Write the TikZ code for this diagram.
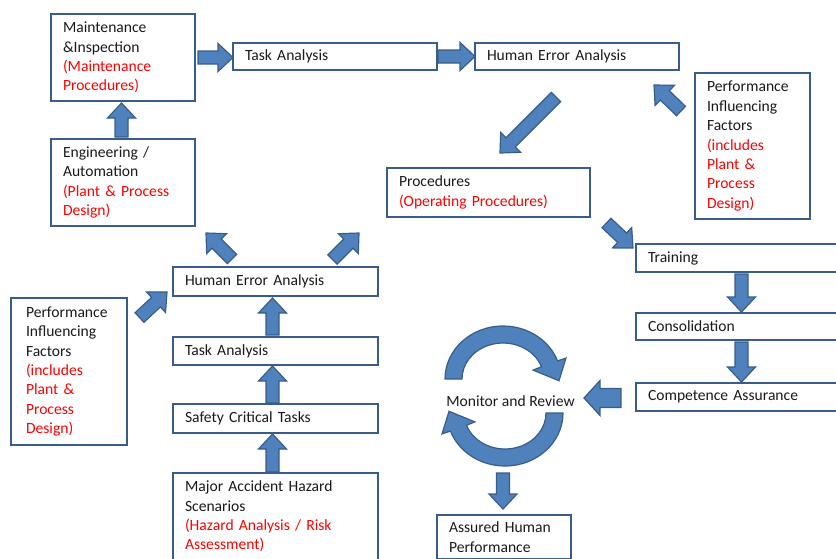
\documentclass[tikz,border=0pt]{standalone}
\usepackage{fontspec}
\setmainfont{Carlito}
\usetikzlibrary{calc}
\definecolor{boxline}{HTML}{385D8A}
\definecolor{arrowfill}{HTML}{4F81BD}
\definecolor{arrowline}{HTML}{385D8A}
\definecolor{errred}{HTML}{FF0000}
\definecolor{txt}{HTML}{1A1A1A}

\newcommand{\shaftw}{6.5pt}
\newcommand{\headw}{14pt}
\newcommand{\headl}{15pt}
\newcommand{\blockarrow}[2]{%
   \coordinate (ba-s) at #1;
   \coordinate (ba-t) at #2;
   \coordinate (ba-h) at ($(ba-t)!\headl!(ba-s)$);
   \draw[arrowbody] ($(ba-s)!\shaftw!90:(ba-t)$) -- ($(ba-h)!\shaftw!-90:(ba-s)$)
      -- ($(ba-h)!\headw!-90:(ba-s)$) -- (ba-t) -- ($(ba-h)!\headw!90:(ba-s)$)
      -- ($(ba-h)!\shaftw!90:(ba-s)$) -- ($(ba-s)!\shaftw!-90:(ba-t)$) -- cycle;}

\begin{document}
\begin{tikzpicture}[x=1pt,y=-1pt,font=\fontsize{15.6pt}{19.4pt}\selectfont,
   box/.style={draw=boxline, line width=2.5pt, fill=white, anchor=north west, outer sep=0pt,
      align=left, inner xsep=12pt, inner ysep=2pt, text=txt},
   arrowbody/.style={draw=arrowline, fill=arrowfill, line width=1.2pt, line join=miter}]
   \path[use as bounding box, clip] (0,0) rectangle (836,558);

   \node[box, minimum width=144pt, minimum height=87pt, text width=120pt] (maint) at (51,14)
      {Maintenance\\\&Inspection\\\color{errred}(Maintenance\\Procedures)};
   \node[box, minimum width=204pt, minimum height=27pt, text width=180pt] (taskA) at (233,43) {Task Analysis};
   \node[box, minimum width=204pt, minimum height=27pt, text width=180pt] (heaA) at (475,43) {Human Error Analysis};
   \node[box, minimum width=144pt, minimum height=87pt, text width=120pt] (eng) at (51,139)
      {Engineering /\\Automation\\\color{errred}(Plant \& Process\\Design)};
   \node[box, minimum width=203pt, minimum height=49pt, text width=179pt] (proc) at (387,168)
      {Procedures\\\color{errred}(Operating Procedures)};
   \node[box, minimum width=115pt, minimum height=146pt, text width=91pt] (pifR) at (695,73)
      {Performance\\Influencing\\Factors\\\color{errred}(includes\\Plant \&\\Process\\Design)};
   \node[box, minimum width=220pt, minimum height=28pt, text width=196pt] (train) at (636,244) {Training};
   \node[box, minimum width=220pt, minimum height=27pt, text width=196pt] (cons) at (636,313) {Consolidation};
   \node[box, minimum width=220pt, minimum height=28pt, text width=196pt] (comp) at (636,383) {Competence Assurance};
   \node[text=txt, inner sep=0pt] (monitor) at (510.5,401) {Monitor and Review};
   \node[box, minimum width=134pt, minimum height=44pt, text width=110pt] (assured) at (437,515)
      {Assured Human\\Performance};

   \node[box, minimum width=205pt, minimum height=29pt, text width=181pt] (heaB) at (173,267) {Human Error Analysis};
   \node[box, minimum width=205pt, minimum height=28pt, text width=181pt] (taskB) at (173,337) {Task Analysis};
   \node[box, minimum width=205pt, minimum height=29pt, text width=181pt] (sct) at (173,404) {Safety Critical Tasks};
   \node[box, minimum width=205pt, minimum height=87pt, text width=181pt] (mahs) at (173,473)
      {Major Accident Hazard\\Scenarios\\\color{errred}(Hazard Analysis / Risk\\Assessment)};
   \node[box, minimum width=116pt, minimum height=147pt, text width=86pt, inner xsep=15pt] (pifL) at (11,298)
      {Performance\\Influencing\\Factors\\\color{errred}(includes\\Plant \&\\Process\\Design)};

   \blockarrow{($(maint.east)+(3,0)$)}{($(taskA.west)+(0,1)$)}
   \blockarrow{($(taskA.east)+(1,0)$)}{(heaA.west)}
   \blockarrow{($(heaA.south)+(-21,27)$)}{($(proc.north)+(11.5,-15)$)}
   \blockarrow{($(pifR.north west)+(-14,38)$)}{($(heaA.south east)+(-25,15)$)}
   \blockarrow{($(proc.south east)+(16.5,6)$)}{($(train.north west)+(-3,4)$)}
   \blockarrow{($(eng.north)+(-1.5,-2)$)}{($(maint.south)+(-1.5,2)$)}
   \blockarrow{($(heaB.north west)+(59,-8)$)}{($(eng.south east)+(11,7)$)}
   \blockarrow{($(heaB.north east)+(-45.5,-7.5)$)}{($(heaB.north east)+(-19,-34)$)}
   \blockarrow{($(pifL.north east)+(12.5,19.5)$)}{($(heaB.west)+(-6,10.5)$)}
   \blockarrow{($(taskB.north)+(-3,-2)$)}{($(heaB.south)+(-3,2)$)}
   \blockarrow{($(sct.north)+(-3,-1)$)}{($(taskB.south)+(-3,1)$)}
   \blockarrow{($(mahs.north)+(-3,-1)$)}{($(sct.south)+(-3,1)$)}
   \blockarrow{($(train.south west)+(105.5,2)$)}{($(cons.north west)+(105.5,-1)$)}
   \blockarrow{($(cons.south west)+(105.5,2)$)}{($(comp.north west)+(105.5,-1)$)}
   \blockarrow{($(monitor.center)+(-7.5,72)$)}{($(assured.north)+(-1,-6)$)}
   {\renewcommand{\shaftw}{9.5pt}\renewcommand{\headw}{17.5pt}\renewcommand{\headl}{16pt}%
   \blockarrow{($(comp.west)+(-15,1)$)}{($(comp.west)+(-52,1)$)}}

   % review cycle
   \begin{scope}[shift={(503,379)}]
   \draw[arrowbody] (180:58 and 53) arc[start angle=180, end angle=340, x radius=58, y radius=53]
      -- (340:67 and 61) -- (2:56 and 50) -- (340:32 and 26) -- (340:41 and 36)
      arc[start angle=340, end angle=180, x radius=41, y radius=36] -- cycle;
   \end{scope}
   \begin{scope}[shift={(505,413)}]
   \draw[arrowbody] (0:58 and 53) arc[start angle=0, end angle=160, x radius=58, y radius=53]
      -- (160:67 and 61) -- (182:56 and 50) -- (160:32 and 26) -- (160:41 and 36)
      arc[start angle=160, end angle=0, x radius=41, y radius=36] -- cycle;
   \end{scope}

\end{tikzpicture}
\end{document}
